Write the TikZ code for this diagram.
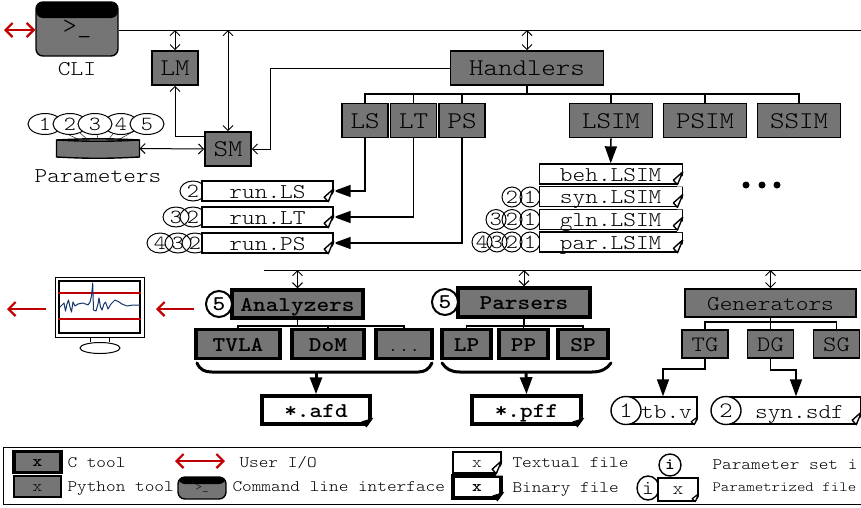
\documentclass[tikz,border=0pt]{standalone}
\usepackage{xcolor}
\usepackage{fontspec}
\setmonofont[FakeStretch=1.15]{Latin Modern Mono Light}
\usetikzlibrary{arrows.meta,shapes.geometric,positioning,backgrounds}
\definecolor{toolgray}{HTML}{757575}
\definecolor{iored}{HTML}{C00000}
\definecolor{tracenavy}{HTML}{14346E}
\newcommand{\ttsize}[1]{\fontsize{#1}{#1}\selectfont\ttfamily}
\newcommand{\btsize}[1]{\fontsize{#1}{#1}\selectfont\ttfamily\bfseries}

\begin{document}
\begin{tikzpicture}[x=1pt, y=-1pt, node distance=48.5pt, line width=1pt,
    tool/.style={rectangle, draw, fill=toolgray, line width=1.6pt, inner sep=0pt, minimum width=46pt, minimum height=34pt, text height=15pt, text depth=0pt, font=\ttsize{24}},
    ctool/.style={tool, line width=3.5pt, text height=14pt, font=\btsize{21}},
    term/.style={rectangle, draw, fill=toolgray, line width=1.4pt, inner sep=0pt, rounded corners=7pt,
        path picture={\fill[black] (path picture bounding box.north west) rectangle ([yshift=-#1]path picture bounding box.north east);}},
    file/.style={rectangle, draw, fill=white, line width=1.4pt, inner sep=0pt, minimum height=20pt, text height=14pt, text depth=0pt, font=\ttsize{21}},
    bfile/.style={file, line width=3.5pt, font=\btsize{21}},
    pset/.style={ellipse, draw, inner sep=0pt, minimum width=20pt, minimum height=20pt, font=\ttsize{20}},
    five/.style={circle, draw, fill=white, line width=2pt, inner sep=0pt, minimum size=26pt, font=\btsize{21}},
    caption/.style={inner sep=0pt, anchor=west, font=\ttsize{16}},
    dbl/.style={<->, >={Straight Barb[length=5pt,width=10pt]}},
    redarrow/.style={->, >={Straight Barb[length=7pt,width=14pt]}, draw=iored, line width=2.2pt},
    fat/.style={->, >={Triangle[length=17pt,width=12pt]}, line width=1.5pt},
    fatter/.style={fat, line width=3pt},
    bar/.style={line width=1.2pt},
    brace/.style={line width=3pt, line cap=round}]

    \useasboundingbox (0,0) rectangle (861,507);

    % legend frame
    \node[rectangle, draw, line width=1pt, inner sep=0pt, minimum width=880pt, minimum height=57pt] (legend) at (443,475.5) {};

    % shell and managers
    \coordinate (topend) at (861,30);
    \coordinate (ioend) at (4,30);
    \node[term=16pt, minimum width=82pt, minimum height=54pt, font=\ttsize{24}] (cli) at (77,29) {\raisebox{-7pt}{>\_}};
    \node[inner sep=0pt, font=\ttsize{21}] (clilabel) at (77,69) {CLI};
    \node[tool] (lm) at (175,68) {LM};
    \node[tool] (sm) at (228,149) {SM};
    \node[tool, minimum width=153pt] (handlers) at (527,68) {Handlers};

    \draw (cli.east |- topend) -- (topend);
    \draw[redarrow, <->] (ioend) -- (cli.west |- ioend);
    \draw[dbl] (lm.north) -- (lm.north |- topend);
    \draw[dbl] (sm.north) -- (sm.north |- topend);
    \draw[dbl] (handlers.north) -- (handlers.north |- topend);
    \draw[->, >={Straight Barb[length=5pt,width=10pt]}] ([yshift=13pt]sm.west) -| (lm.south);
    \draw[->, >={Straight Barb[length=5pt,width=10pt]}] (handlers.west) -| (270,149) -- (sm.east);

    % parameters
    \node[inner sep=0pt, minimum width=82pt, minimum height=16pt] (drum) at (98,148.5) {};
    \node[inner sep=0pt, font=\ttsize{21}] (paramlabel) at (98,176) {Parameters};
    \foreach \i/\x in {1/45,2/70,4/121,3/95,5/147}
        \node[pset, fill=white, minimum width=34pt, minimum height=21pt] (p\i) at (\x,124) {\i};
    \begin{scope}[on background layer]
        \foreach \i/\d in {1/-18,2/-10,3/0,4/10,5/20}
            \draw (p\i) -- ([xshift=\d pt]drum.north);
    \end{scope}
    \draw[fill=toolgray, line width=1.4pt] (drum.north west) to[bend left=3] (drum.north east) -- (drum.south east) to[bend left=3] (drum.south west) -- cycle;
    \draw[line width=1.4pt] (drum.north west) to[bend right=3] (drum.north east);
    \draw[dbl] (drum.east) -- (sm.west);

    % handlers row
    \coordinate (hbus) at (527,94);
    \node[tool] (ls) at (365,120.5) {LS};
    \node[tool, right of=ls] (lt) {LT};
    \node[tool, right of=lt] (ps) {PS};
    \node[tool, minimum width=83pt] (lsim) at (611,120.5) {LSIM};
    \node[tool, minimum width=83pt, right of=lsim, node distance=94pt] (psim) {PSIM};
    \node[tool, minimum width=83pt, right of=psim, node distance=94pt] (ssim) {SSIM};
    \draw[bar] (handlers.south) -- (hbus);
    \foreach \t in {ls,lt,ps,lsim,psim,ssim}
        \draw[bar] (hbus) -| (\t.north);
    \foreach \n/\x in {1/746,2/762,3/777}
        \node[circle, fill=black, inner sep=0pt, minimum size=7pt] (moredot\n) at (\x,185) {};

    % run files
    \node[pset, minimum width=26pt] (rls2) at (193,191) {2};
    \node[pset, minimum width=26pt] (rlt3) at (176,217) {3};
    \node[pset, minimum width=26pt] (rlt2) at (193,217) {2};
    \node[pset, minimum width=26pt] (rps4) at (160,243) {4};
    \node[pset, minimum width=26pt] (rps3) at (178,243) {3};
    \node[pset, minimum width=26pt] (rps2) at (195,243) {2};
    \node[file, minimum width=131pt] (runls) at (267.5,191) {run.LS};
    \node[file, minimum width=131pt, below of=runls, node distance=26pt] (runlt) {run.LT};
    \node[file, minimum width=131pt, below of=runlt, node distance=26pt] (runps) {run.PS};
    \draw[fat] (ls.south) |- (runls.east);
    \draw[fat] (lt.south) |- (runlt.east);
    \draw[fat] (ps.south) |- (runps.east);

    % LSIM files
    \node[pset] (syn2) at (512,197) {2};
    \node[pset] (syn1) at (530,197) {1};
    \node[pset] (gln3) at (496,219.5) {3};
    \node[pset] (gln2) at (512,219.5) {2};
    \node[pset] (gln1) at (530,219.5) {1};
    \node[pset] (par4) at (482,242) {4};
    \node[pset] (par3) at (497,242) {3};
    \node[pset] (par2) at (512,242) {2};
    \node[pset] (par1) at (530,242) {1};
    \node[file, minimum width=143pt] (beh) at (610.7,174) {beh.LSIM};
    \node[file, minimum width=143pt, below of=beh, node distance=22.7pt] (syn) {syn.LSIM};
    \node[file, minimum width=143pt, below of=syn, node distance=22.7pt] (gln) {gln.LSIM};
    \node[file, minimum width=143pt, below of=gln, node distance=22.7pt] (par) {par.LSIM};
    \draw[fat] (lsim.south) -- (beh.north);

    % lower bus
    \coordinate (lowstart) at (264,270);
    \coordinate (lowend) at (861,270);
    \draw (lowstart) -- (lowend);

    % analyzers
    \node[ctool, minimum width=131pt, minimum height=28pt] (analyzers) at (297.5,304) {Analyzers};
    \node[five] (afive) at (219,304) {5};
    \node[ctool, minimum width=84pt, minimum height=29pt] (tvla) at (238,344) {TVLA};
    \node[ctool, minimum width=72pt, minimum height=29pt] (dom) at (328,344) {DoM};
    \node[ctool, minimum width=56pt, minimum height=29pt, font=\ttsize{18}] (adots) at (404,344) {...};
    \coordinate (abus) at (297.5,326);
    \draw[dbl] (analyzers.north) -- (analyzers.north |- lowstart);
    \draw[bar] (analyzers.south) -- (abus);
    \foreach \t in {tvla,dom,adots}
        \draw[bar] (abus) -| (\t.north);
    \draw[brace] (197,363) .. controls (200,370) and (205,372) .. (212,372) -- (418,372) .. controls (425,372) and (429,369) .. (432,363);
    \coordinate (abrace) at (316,372);
    \node[bfile, minimum width=108pt, minimum height=28pt] (afd) at (316,410) {*.afd};
    \draw[fatter] (abrace) -- (afd.north);

    % parsers
    \node[ctool, minimum width=132pt, minimum height=29pt] (parsers) at (524,302.5) {Parsers};
    \node[five] (pfive) at (445,302) {5};
    \node[ctool, minimum width=49pt, minimum height=29pt] (lp) at (466.5,344) {LP};
    \node[ctool, minimum width=49pt, minimum height=29pt] (pp) at (523.5,344) {PP};
    \node[ctool, minimum width=50pt, minimum height=29pt] (sp) at (583,344) {SP};
    \coordinate (pbus) at (524,326);
    \draw[dbl] (parsers.north) -- (parsers.north |- lowstart);
    \draw[bar] (parsers.south) -- (pbus);
    \foreach \t in {lp,pp,sp}
        \draw[bar] (pbus) -| (\t.north);
    \draw[brace] (442,363) .. controls (446,369) and (451,372) .. (460,372) -- (592,372) .. controls (601,372) and (607,369) .. (611,363);
    \coordinate (pbrace) at (526,372);
    \node[bfile, minimum width=109pt, minimum height=28pt] (pff) at (526.5,410) {*.pff};
    \draw[fatter] (pbrace) -- (pff.north);

    % generators
    \node[tool, minimum width=171pt, minimum height=28pt, text height=14pt, font=\ttsize{21}] (generators) at (770.5,303) {Generators};
    \node[tool, minimum height=28pt, text height=14pt, font=\ttsize{22}] (tg) at (705,344) {TG};
    \node[tool, minimum height=28pt, text height=14pt, font=\ttsize{22}] (dg) at (770.5,344) {DG};
    \node[tool, minimum height=28pt, text height=14pt, font=\ttsize{22}] (sg) at (836.5,344) {SG};
    \coordinate (gbus) at (770.5,322);
    \draw[dbl] (generators.north) -- (generators.north |- lowstart);
    \draw[bar, line width=1.6pt] (generators.south) -- (gbus);
    \foreach \t in {tg,dg,sg}
        \draw[bar, line width=1.6pt] (gbus) -| (\t.north);
    \node[file, minimum width=69pt, minimum height=27pt, text height=15pt] (tbv) at (662.5,410.5) {\hspace*{8pt}tb.v};
    \node[file, minimum width=131pt, minimum height=27pt, text height=15pt] (syndf) at (795.5,410.5) {\hspace*{8pt}syn.sdf};
    \node[pset, fill=white, line width=1.4pt, minimum width=30pt, minimum height=28pt, font=\ttsize{22}] (tbone) at (626,410.5) {1};
    \node[pset, fill=white, line width=1.4pt, minimum width=30pt, minimum height=28pt, font=\ttsize{22}] (syntwo) at (726,410.5) {2};
    \coordinate (tgbend) at (663,369);
    \coordinate (dgbend) at (796,370);
    \draw[fat] (tg.south) |- (tgbend) -- (tbv.north -| tgbend);
    \draw[fat] (dg.south) |- (dgbend) -- (syndf.north -| dgbend);

    % monitor
    \node[rectangle, draw, fill=white, inner sep=0pt, minimum width=89pt, minimum height=60pt] (monitor) at (99.5,307) {};
    \node[rectangle, draw, line width=1.6pt, inner sep=0pt, minimum width=81pt, minimum height=52pt] (screen) at (99.5,307) {};
    \node[ellipse, draw, fill=white, inner sep=0pt, minimum width=40pt, minimum height=11pt] (base) at (100,348) {};
    \draw ([xshift=-9.5pt]monitor.south) -- ([xshift=-9.5pt]monitor.south |- base.north);
    \draw ([xshift=9.5pt]monitor.south) -- ([xshift=9.5pt]monitor.south |- base.north);
    \coordinate (redhigh) at (99.5,293);
    \coordinate (redlow) at (99.5,319);
    \draw[draw=iored, line width=1.5pt] (screen.west |- redhigh) -- (screen.east |- redhigh);
    \draw[draw=iored, line width=1.5pt] (screen.west |- redlow) -- (screen.east |- redlow);
    \draw[tracenavy, line width=1pt, line join=round] plot coordinates {(60,307) (62,305) (64,303) (65.5,311) (67,304) (68.5,300) (70,307) (71.5,312) (73,302) (75,306) (78,304) (83,303) (88,305) (90,302) (91.5,296) (92.7,283) (93.5,310) (96,311) (98,304) (99,298) (100.5,307) (102,310) (104,304) (105.5,302) (108,309) (111,304) (115,300) (119,302) (122,304) (127,306) (133,305) (140,305)};
    \coordinate (redin) at (156,309);
    \coordinate (redfrom) at (194,309);
    \coordinate (redout) at (7,309);
    \coordinate (redoutfrom) at (46,309);
    \draw[redarrow] (redfrom) -- (redin);
    \draw[redarrow] (redoutfrom) -- (redout);

    % legend content
    \node[ctool, minimum width=47pt, minimum height=21pt, text height=9pt, font=\btsize{16}] (lgc) at (37.5,462) {x};
    \node[tool, minimum width=47pt, minimum height=21pt, text height=9pt, font=\ttsize{16}] (lgpy) at (37.5,486.5) {x};
    \node[caption] (lgctext) at (67,463) {C tool};
    \node[caption] (lgpytext) at (67,488) {Python tool};
    \coordinate (lgiol) at (175,461);
    \coordinate (lgior) at (225,461);
    \draw[redarrow, <->] (lgiol) -- (lgior);
    \node[caption] (lgiotext) at (239,463) {User I/O};
    \node[term=7pt, minimum width=48pt, minimum height=22pt, font=\ttsize{11}] (lgcli) at (202,488) {\raisebox{-3pt}{>\_}};
    \node[caption] (lgclitext) at (232,487) {Command line interface};
    \node[file, minimum width=48pt, minimum height=21pt, text height=9pt, font=\ttsize{16}] (lgtxt) at (477,462.5) {x};
    \node[bfile, minimum width=48pt, minimum height=22pt, text height=9pt, font=\btsize{16}] (lgbin) at (477,487) {x};
    \node[caption] (lgtxttext) at (512,463) {Textual file};
    \node[caption] (lgbintext) at (512,489) {Binary file};
    \node[circle, draw, line width=1.4pt, inner sep=0pt, minimum size=22pt, font=\btsize{16}] (lgset) at (670,465) {i};
    \node[caption] (lgsettext) at (712,465) {Parameter set i};
    \node[pset, minimum width=22pt, minimum height=24pt, line width=1.4pt] (lgparc) at (648,488) {i};
    \node[file, minimum width=40pt, minimum height=23pt, text height=10pt, font=\ttsize{18}] (lgparf) at (678,489.5) {x};
    \node[caption, font=\ttsize{14}] (lgpartext) at (712,487) {Parametrized file};

    % page corners
    \foreach \f in {runls,runlt,runps,beh,syn,gln,par,lgtxt,syndf}{
        \fill[white] (\f.south east) ++(2,2) -- ++(0,-15) -- ++(-8,15) -- cycle;
        \draw[line width=1.4pt, line join=round] (\f.south east) ++(0,-13) -- ++(-5.5,13) -- ++(-4,-4.5) -- ++(9.5,-8.5);
    }
    \foreach \f in {tbv,lgparf}{
        \fill[white] (\f.south east) ++(2,2) -- ++(0,-10) -- ++(-6,10) -- cycle;
        \draw[line width=1.2pt, line join=round] (\f.south east) ++(0,-8) -- ++(-3.5,8) -- ++(-3,-3) -- ++(6.5,-5);
    }
    \foreach \f in {afd,pff,lgbin}{
        \fill[white] (\f.south east) ++(3,3) -- ++(0,-13) -- ++(-9,13) -- cycle;
        \fill[black] (\f.south east) ++(1.7,-8) -- ++(-7,9.7) -- ++(-5,-6) -- cycle;
    }
\end{tikzpicture}
\end{document}
